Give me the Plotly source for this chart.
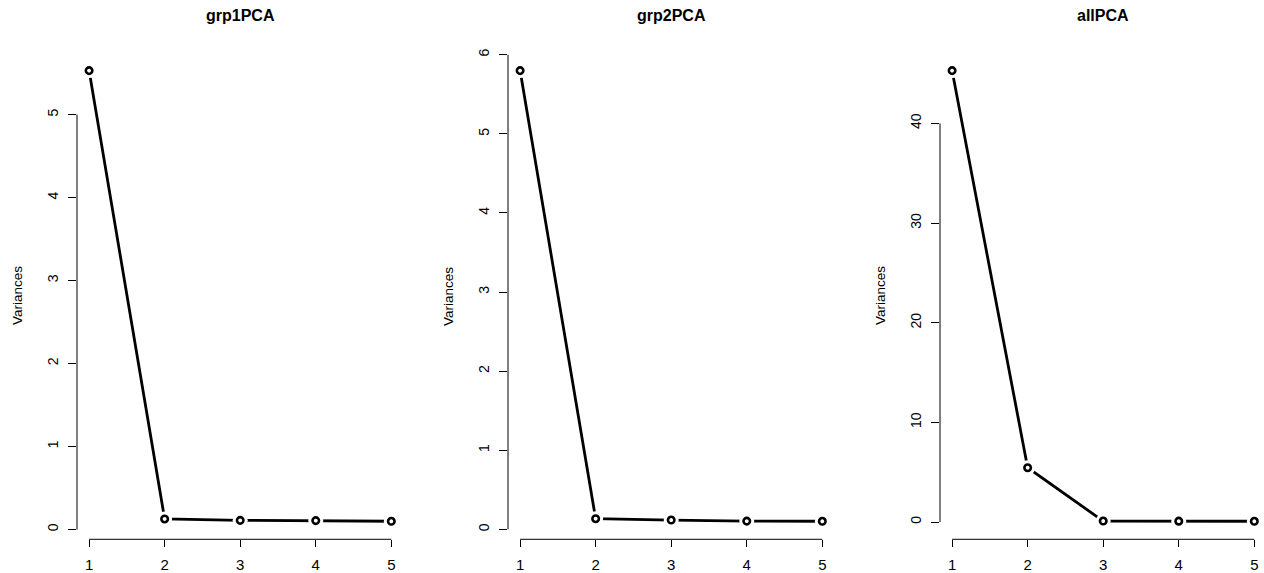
import plotly.graph_objects as go

components = [1, 2, 3, 4, 5]
titles = ["grp1PCA", "grp2PCA", "allPCA"]
grp1_var = [5.53, 0.128, 0.111, 0.108, 0.100]
grp2_var = [5.80, 0.134, 0.117, 0.104, 0.102]
all_var = [45.3, 5.45, 0.10, 0.09, 0.08]
series = [grp1_var, grp2_var, all_var]
ytick_sets = [[0, 1, 2, 3, 4, 5], [0, 1, 2, 3, 4, 5, 6], [0, 10, 20, 30, 40]]
ylabel = "Variances"

W, H = 1264, 573
left_px = [77, 508, 940]
panel_w = 326.4
top_px, bot_px = 49, 540
FONT = "Liberation Sans, Arial, Helvetica, sans-serif"

fig = go.Figure()
for i, vals in enumerate(series):
    ax = "" if i == 0 else str(i + 1)
    xa, ya = "x" + ax, "y" + ax
    # R-style 4% padded ranges
    xmin, xmax = min(components), max(components)
    xr = [xmin - 0.04 * (xmax - xmin), xmax + 0.04 * (xmax - xmin)]
    ymin, ymax = min(vals), max(vals)
    yr = [ymin - 0.04 * (ymax - ymin), ymax + 0.04 * (ymax - ymin)]
    l = left_px[i]
    r = min(l + panel_w, W)
    xr_adj = [xr[0], xr[0] + (xr[1] - xr[0]) * (r - l) / panel_w]

    fig.add_trace(go.Scatter(x=components, y=vals, mode="lines",
                             line=dict(color="black", width=2.8),
                             xaxis=xa, yaxis=ya, showlegend=False, hoverinfo="skip"))
    fig.add_trace(go.Scatter(x=components, y=vals, mode="markers",
                             marker=dict(symbol="circle", size=15, color="white", line=dict(width=0)),
                             xaxis=xa, yaxis=ya, showlegend=False, hoverinfo="skip"))
    fig.add_trace(go.Scatter(x=components, y=vals, mode="markers",
                             marker=dict(symbol="circle-open", size=6.5, color="black", line=dict(width=2.6, color="black")),
                             xaxis=xa, yaxis=ya, showlegend=False))

    fig.update_layout({
        "xaxis" + ax: dict(domain=[l / W, r / W], range=xr_adj, anchor=ya,
                           tickmode="array", tickvals=components, ticktext=[str(c) for c in components],
                           ticks="outside", ticklen=7, tickwidth=1, tickcolor="black",
                           showline=False, showgrid=False, zeroline=False,
                           tickfont=dict(family=FONT, size=15, color="black"),
                           ticklabelstandoff=5),
        "yaxis" + ax: dict(domain=[(H - bot_px) / H, (H - top_px) / H], range=yr, anchor=xa,
                           tickmode="array", tickvals=ytick_sets[i], ticktext=[str(t) for t in ytick_sets[i]],
                           ticks="outside", ticklen=8.5, tickwidth=1, tickcolor="black",
                           showline=False, showgrid=False, zeroline=False, tickangle=-90,
                           tickfont=dict(family=FONT, size=14, color="black"),
                           ticklabelstandoff=4),
    })
    # R-style axis lines spanning first..last tick
    fig.add_shape(type="line", xref=xa, yref=ya + " domain", x0=components[0], x1=components[-1],
                  y0=0, y1=0, line=dict(color="black", width=1))
    fig.add_shape(type="line", xref=xa + " domain", yref=ya, x0=0, x1=0,
                  y0=ytick_sets[i][0], y1=ytick_sets[i][-1], line=dict(color="black", width=1))
    fig.add_annotation(text="<b>" + titles[i] + "</b>", xref=xa + " domain", yref="paper",
                       x=0.5 * panel_w / (r - l), y=1, yanchor="top", xanchor="center", yshift=-1,
                       showarrow=False, font=dict(family=FONT, size=16, color="black"))
    fig.add_annotation(text=ylabel, xref=xa + " domain", yref=ya + " domain", x=0, y=0.5,
                       xanchor="center", yanchor="middle", xshift=-59, textangle=-90,
                       showarrow=False, font=dict(family=FONT, size=13.5, color="black"))

fig.update_layout(width=W, height=H, margin=dict(l=0, r=0, t=0, b=0),
                  paper_bgcolor="white", plot_bgcolor="white")
fig.write_html("out.html")
